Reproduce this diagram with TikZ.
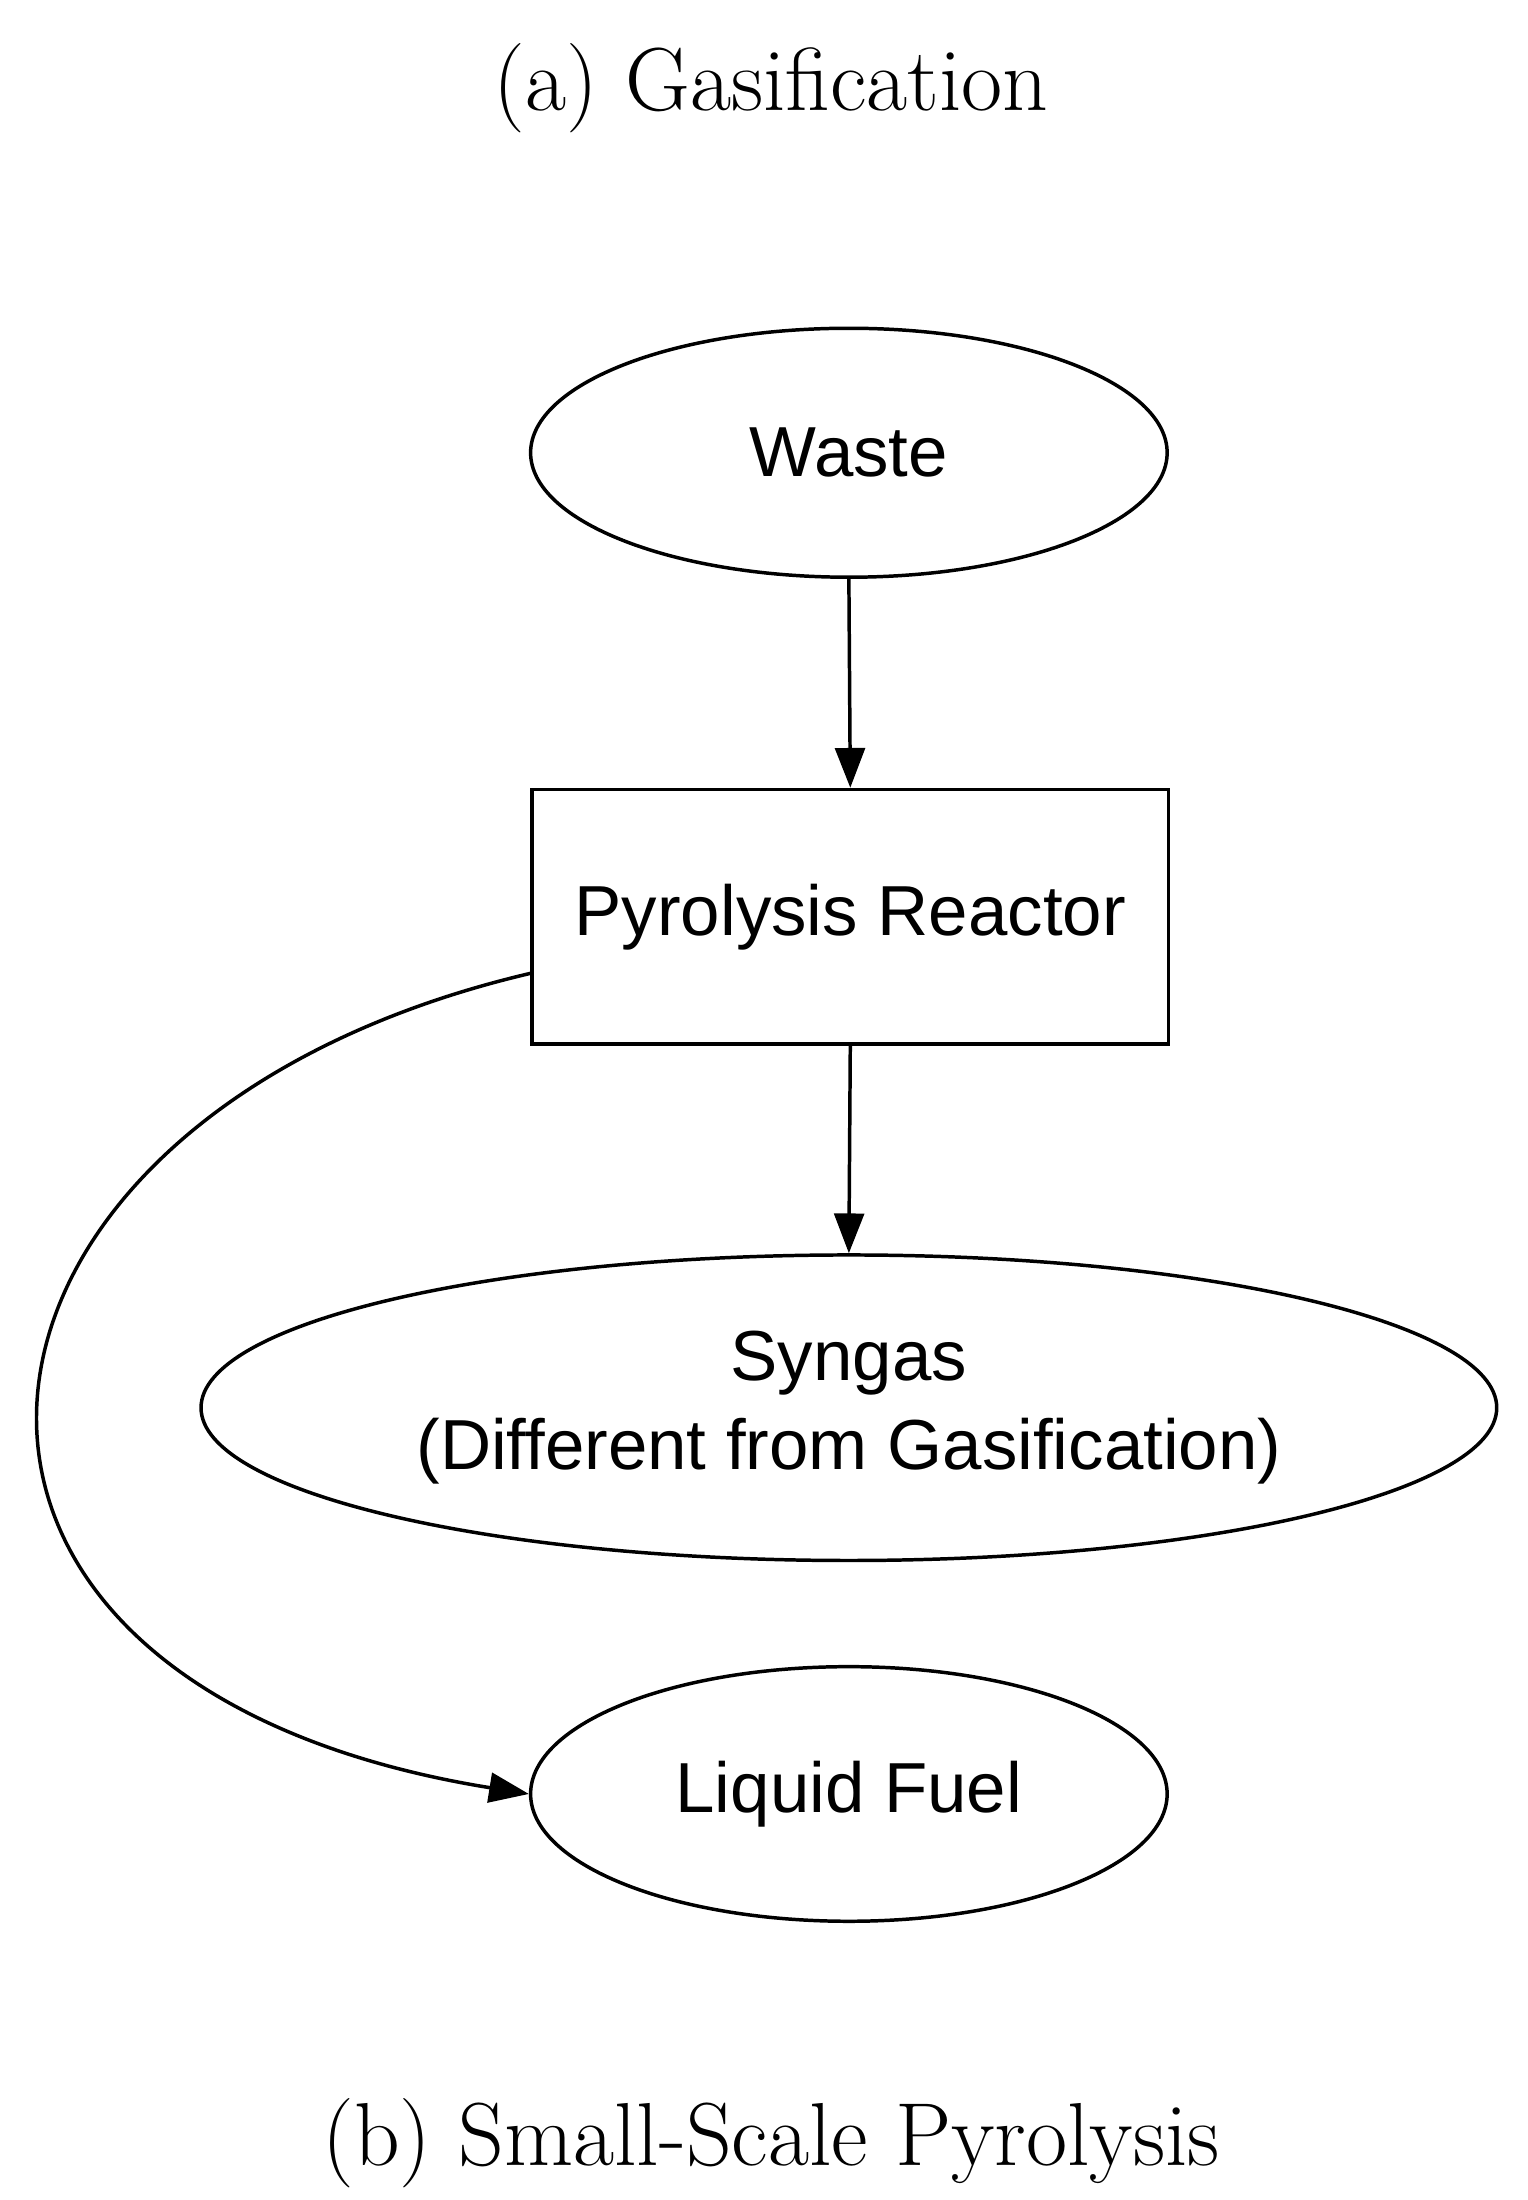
\documentclass[tikz,border=0pt]{standalone}
\usepackage{fontspec}
\newfontfamily\sansf{Liberation Sans}
\usetikzlibrary{shapes.geometric,arrows.meta}
\begin{document}
\begin{tikzpicture}[x=0.02cm,y=-0.02cm,
  nd/.style={draw,line width=1.4pt,font=\sansf\fontsize{28.5}{36}\selectfont,align=center,inner sep=0},
  el/.style={nd,ellipse},
  ar/.style={-{Triangle[length=16pt,width=12pt]},line width=1.4pt},
  ttl/.style={font=\fontsize{36}{40}\selectfont}]
\useasboundingbox (0,0) rectangle (1080,1555);
\node[ttl] (ta) at (545,62) {(a) Gasification};
\node[ttl] (tb) at (545,1515) {(b) Small-Scale Pyrolysis};
\node[el,minimum width=9cm,minimum height=3.52cm] (w) at (600,320) {Waste};
\node[nd,minimum width=9cm,minimum height=3.6cm] (r) at (601,648) {Pyrolysis Reactor};
\node[el,minimum width=18.32cm,minimum height=4.32cm] (s) at (600,995) {Syngas\\(Different from Gasification)};
\node[el,minimum width=9cm,minimum height=3.6cm] (l) at (600,1268) {Liquid Fuel};
\draw[ar] (w.south) -- (r.north);
\draw[ar] (r.south) -- (s.north);
\draw[ar] (r.west |- 0,688) .. controls (-60,790) and (-110,1190) .. (l.west);
\end{tikzpicture}
\end{document}
